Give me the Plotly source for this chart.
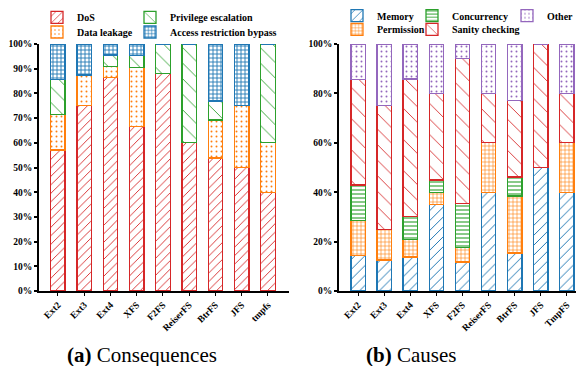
import plotly.graph_objects as go

# ---------------- data ----------------
fs_a = ["Ext2", "Ext3", "Ext4", "XFS", "F2FS", "ReiserFS", "BtrFS", "JFS", "tmpfs"]
dos = [57.1, 75.0, 86.4, 66.7, 88.2, 60.0, 53.8, 50.0, 40.0]
data_leakage = [14.3, 12.5, 4.5, 23.8, 0.0, 0.0, 15.4, 25.0, 20.0]
privilege_escalation = [14.3, 0.0, 4.6, 4.8, 11.8, 40.0, 7.7, 0.0, 40.0]
access_bypass = [14.3, 12.5, 4.5, 4.7, 0.0, 0.0, 23.1, 25.0, 0.0]

fs_b = ["Ext2", "Ext3", "Ext4", "XFS", "F2FS", "ReiserFS", "BtrFS", "JFS", "TmpFS"]
memory = [14.3, 12.5, 13.8, 35.0, 11.8, 40.0, 15.4, 50.0, 40.0]
permission = [14.3, 12.5, 7.1, 5.0, 5.9, 20.0, 23.1, 0.0, 20.0]
concurrency = [14.3, 0.0, 9.2, 5.0, 17.6, 0.0, 7.7, 0.0, 0.0]
sanity_checking = [42.8, 50.0, 55.7, 35.0, 58.8, 20.0, 30.8, 50.0, 20.0]
other = [14.3, 25.0, 14.2, 20.0, 5.9, 20.0, 23.0, 0.0, 20.0]

left_ticks = [0, 10, 20, 30, 40, 50, 60, 70, 80, 90, 100]
right_ticks = [0, 20, 40, 60, 80, 100]

# ---------------- style ----------------
RED = "#d62728"
ORANGE = "#ff7f0e"
GREEN = "#2ca02c"
BLUE = "#1f77b4"
PURPLE = "#9467bd"
FONT = "Liberation Serif, Times New Roman, serif"
OFF = 8                      # page body margin
W, H = 584 - OFF, 366 - OFF


def px(x):
    return (x - OFF) / W


def py(y):
    return (H - (y - OFF)) / H


fig = go.Figure()


def add(x, y, name, color, shape, size, solidity, xa, ya, legend):
    fig.add_trace(go.Bar(
        x=x, y=y, name=name, xaxis=xa, yaxis=ya, width=0.55,
        marker=dict(color="white",
                    line=dict(color=color, width=1.3),
                    pattern=dict(shape=shape, fgcolor=color, bgcolor="white",
                                 size=size, solidity=solidity, fillmode="replace")),
        legend=legend, showlegend=True,
    ))


add(fs_a, dos, "DoS", RED, "/", 6, 0.15, "x", "y", "legend")
add(fs_a, data_leakage, "Data leakage", ORANGE, ".", 5, 0.12, "x", "y", "legend2")
add(fs_a, privilege_escalation, "Privilege escalation", GREEN, "\\", 11, 0.08, "x", "y", "legend3")
add(fs_a, access_bypass, "Access restriction bypass", BLUE, "+", 4, 0.4, "x", "y", "legend4")

add(fs_b, memory, "Memory", BLUE, "/", 7, 0.14, "x2", "y2", "legend5")
add(fs_b, permission, "Permission", ORANGE, "+", 4, 0.28, "x2", "y2", "legend6")
add(fs_b, concurrency, "Concurrency", GREEN, "-", 4, 0.28, "x2", "y2", "legend7")
add(fs_b, sanity_checking, "Sanity checking", RED, "\\", 11, 0.08, "x2", "y2", "legend8")
add(fs_b, other, "Other", PURPLE, ".", 5, 0.12, "x2", "y2", "legend9")

tickfont = dict(family=FONT, size=9.5, color="black", weight="bold")


def xaxis(domain, rng):
    return dict(domain=domain, type="category", range=rng, showline=True,
                linecolor="black", linewidth=1.5, ticks="outside", ticklen=3,
                tickwidth=1, tickcolor="black", tickangle=-45, tickfont=tickfont,
                showgrid=False, zeroline=False, automargin=False)


def yaxis(domain, anchor, vals):
    return dict(domain=domain, anchor=anchor, range=[0, 100], tickvals=vals,
                ticktext=[f"{v}%" for v in vals], showline=True,
                linecolor="black", linewidth=1.5, ticks="outside", ticklen=3,
                tickwidth=1.5, tickcolor="black", tickfont=tickfont,
                showgrid=False, zeroline=False, automargin=False)


ydom = [py(291), py(44)]


def leg(x, y):
    return dict(x=px(x), y=py(y), xanchor="left", yanchor="middle",
                orientation="h", bgcolor="rgba(0,0,0,0)", borderwidth=0,
                font=dict(family=FONT, size=10, color="black", weight="bold"))


fig.update_layout(
    width=W, height=H, margin=dict(l=0, r=0, t=0, b=0, autoexpand=False),
    paper_bgcolor="white", plot_bgcolor="white",
    barmode="stack",
    xaxis=xaxis([px(39), px(289)], [-0.72, 8.8]),
    yaxis=yaxis(ydom, "x", left_ticks),
    xaxis2=xaxis([px(339), px(580)], [-0.73, 8.5]),
    yaxis2=yaxis(ydom, "x2", right_ticks),
    legend=leg(37, 17.3),
    legend2=leg(37, 32),
    legend3=leg(130, 17.3),
    legend4=leg(130, 32),
    legend5=leg(337, 15.7),
    legend6=leg(337, 29.3),
    legend7=leg(412, 15.7),
    legend8=leg(412, 29.3),
    legend9=leg(507, 15.7),
    showlegend=True,
)

fig.add_annotation(x=px(142), y=py(355), xref="paper", yref="paper",
                   xanchor="center", yanchor="middle",
                   text="<b>(a)</b> Consequences", showarrow=False,
                   font=dict(family=FONT, size=21, color="black"))
fig.add_annotation(x=px(411), y=py(355), xref="paper", yref="paper",
                   xanchor="center", yanchor="middle",
                   text="<b>(b)</b> Causes", showarrow=False,
                   font=dict(family=FONT, size=21, color="black"))

fig.write_html("out.html")
